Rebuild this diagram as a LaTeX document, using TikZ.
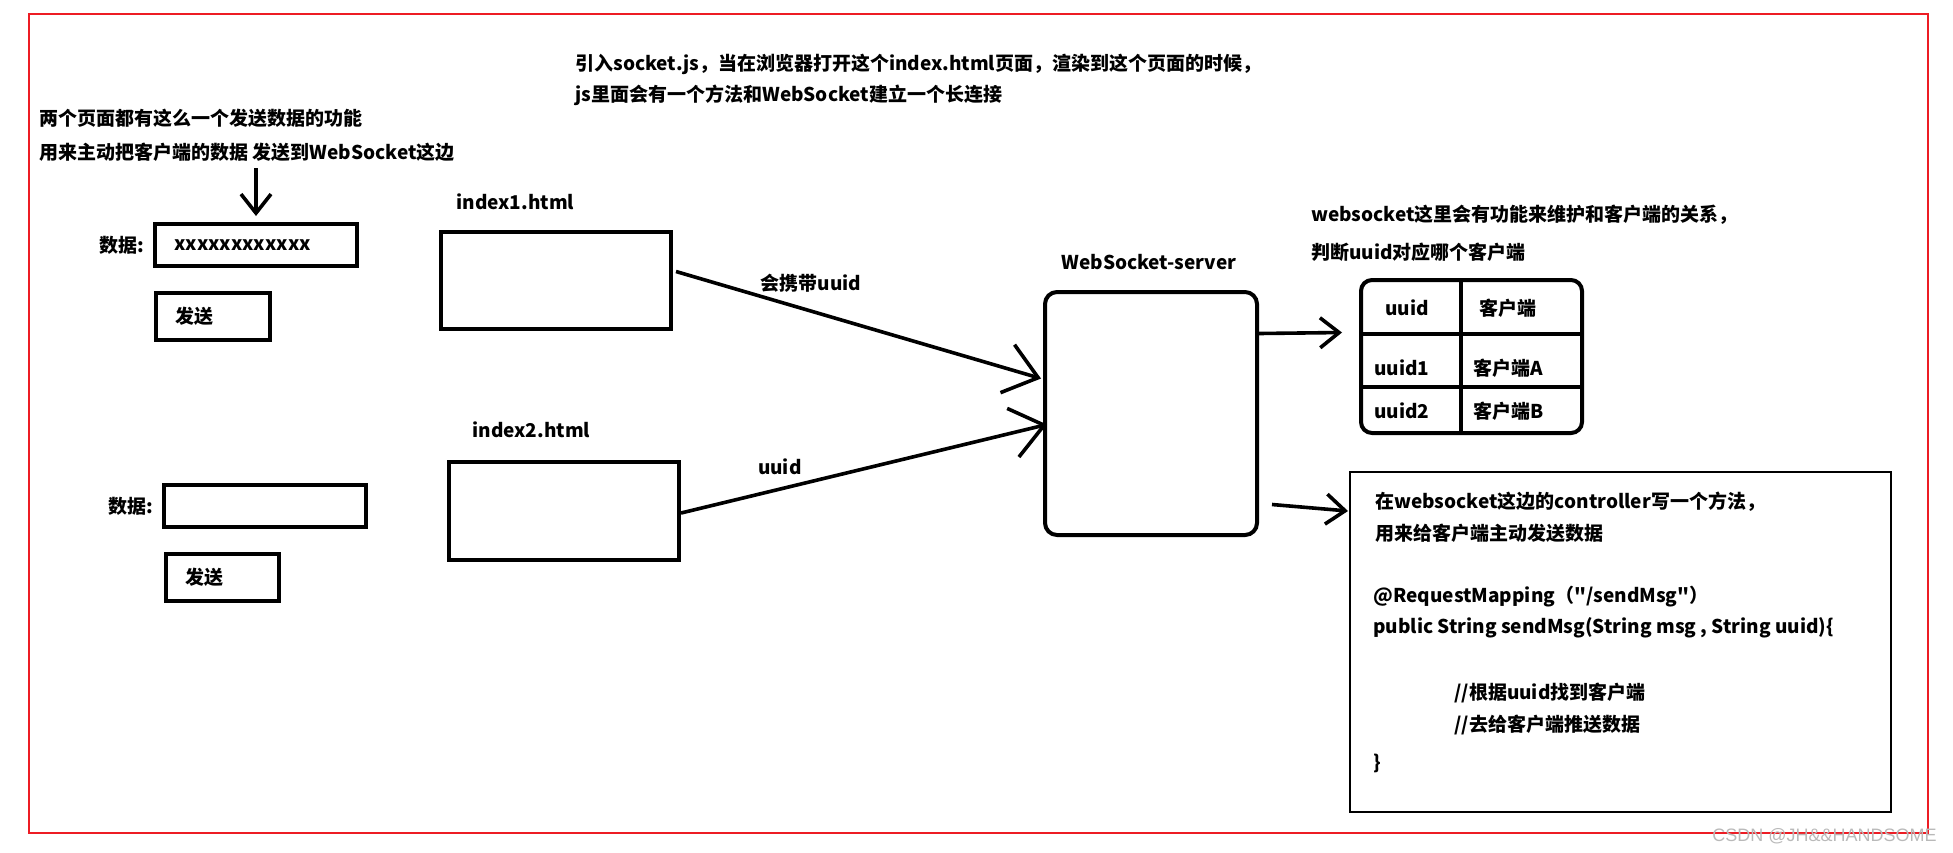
\documentclass[tikz,border=0pt]{standalone}
\usepackage{fontspec}
\setmainfont{Noto Sans CJK SC}[Ligatures=TeXOff]
\newfontfamily\markfont{Liberation Sans}
\usetikzlibrary{arrows.meta,calc}
\definecolor{framered}{RGB}{237,28,36}

\begin{document}
\begin{tikzpicture}[x=0.5pt, y=-0.5pt,
    every node/.style={font=\fontsize{9.5}{11}\selectfont\bfseries},
    txt/.style={anchor=west, inner sep=0pt},
    box/.style={draw, line width=2pt, inner sep=0pt, outer sep=0pt, anchor=north west},
    big arrow/.style={line width=1.8pt, -{Straight Barb[length=16pt, width=25pt]}},
    small arrow/.style={line width=1.8pt, -{Straight Barb[length=9.5pt, width=15pt]}}]
  \useasboundingbox (0,0) rectangle (1953,852);

  % Red frame round everything
  \draw[framered, line width=1.2pt] (29,14) rectangle (1928,833);

  % Notes at the top
  \node[txt] (jsnote1) at (575,64) {引入socket.js，当在浏览器打开这个index.html页面，渲染到这个页面的时候，};
  \node[txt] (jsnote2) at (575,95) {js里面会有一个方法和WebSocket建立一个长连接};
  \node[txt] (sendnote1) at (39,118) {两个页面都有这么一个发送数据的功能};
  \node[txt] (sendnote2) at (39,152) {用来主动把客户端的数据 发送到WebSocket这边};

  % Form of the first page
  \node[box, minimum width=101pt, minimum height=21pt] (in1) at (155,224) {};
  \node[txt, anchor=east] (data1) at ($(in1.west)+(-10,0)$) {数据:};
  \node[txt] (val1) at ($(in1.west)+(19,0)$) {xxxxxxxxxxxx};
  \node[box, minimum width=57pt, minimum height=23.5pt] (send1) at (156,293) {};
  \node[txt] (sendtxt1) at ($(send1.west)+(19,0)$) {发送};
  \coordinate (hint) at (256,168);
  \draw[small arrow] (hint) -- ([yshift=4pt]in1.north);

  % Form of the second page
  \node[box, minimum width=101pt, minimum height=21pt] (in2) at (164,485) {};
  \node[txt, anchor=east] (data2) at ($(in2.west)+(-10,0)$) {数据:};
  \node[box, minimum width=56.5pt, minimum height=23.5pt] (send2) at (166,554) {};
  \node[txt] (sendtxt2) at ($(send2.west)+(19,0)$) {发送};

  % The two pages
  \node[box, minimum width=115pt, minimum height=48.5pt] (idx1) at (441,232) {};
  \node[txt] (idx1lbl) at (456,202) {index1.html};
  \node[box, minimum width=115pt, minimum height=49pt] (idx2) at (449,462) {};
  \node[txt] (idx2lbl) at (472,430) {index2.html};

  % Server
  \node[box, rounded corners=6pt, minimum width=106pt, minimum height=121.5pt] (server) at (1045,292) {};
  \node[txt] (serverlbl) at (1061,262) {WebSocket-server};

  % Pages to server
  \draw[big arrow] ($(idx1.east)+(5,-9)$) -- ($(server.west)+(-4,-35)$)
    node[pos=0.37, above=5pt] (uuidlbl1) {会携带uuid};
  \draw[big arrow] ($(idx2.east)+(2,2)$) -- ($(server.west)+(2,11)$)
    node[pos=0.27, above=3pt] (uuidlbl2) {uuid};

  % Table of uuid and clients
  \node[txt] (mapnote1) at (1311,215) {websocket这里会有功能来维护和客户端的关系，};
  \node[txt] (mapnote2) at (1311,252) {判断uuid对应哪个客户端};
  \node[box, rounded corners=5.5pt, minimum width=110.5pt, minimum height=76.5pt] (tbl) at (1361,280) {};
  \coordinate (colx) at (1461,0);
  \draw[line width=2pt] (tbl.north -| colx) -- (tbl.south -| colx);
  \foreach \r in {334,387} {
    \coordinate (rowy) at (0,\r);
    \draw[line width=2pt] (tbl.west |- rowy) -- (tbl.east |- rowy);
  }
  \node[txt] (head1) at (1385,308) {uuid};
  \node[txt] (head2) at (1479,308) {客户端};
  \foreach \y/\n/\c in {368/1/A, 411/2/B} {
    \node[txt] at (1374,\y) {uuid\n};
    \node[txt] at (1473,\y) {客户端\c};
  }
  \draw[small arrow] ($(server.east)+(2,-80)$) -- ($(tbl.west)+(-19,-24)$);

  % Controller box
  \node[box, line width=1.3pt, minimum width=270.5pt, minimum height=170pt] (code) at (1350,472) {};
  \node[txt] (code1) at (1375,502) {在websocket这边的controller写一个方法，};
  \node[txt] (code2) at (1375,533) {用来给客户端主动发送数据};
  \node[txt] (code3) at (1373,597) {@RequestMapping（"/sendMsg"）};
  \node[txt] (code4) at (1373,628) {public String sendMsg(String msg , String uuid)\{};
  \node[txt] (code5) at (1454,693) {//根据uuid找到客户端};
  \node[txt] (code6) at (1454,725) {//去给客户端推送数据};
  \node[txt] (code7) at (1373,763) {\}};
  \draw[small arrow] ($(server.east)+(15,91)$) -- ($(code.west)+(-2,-131)$);

  % Watermark
  \node[anchor=east, inner sep=0pt, text=gray!55, font=\markfont\fontsize{9}{10}\selectfont] (mark) at (1937,836) {CSDN @JH\&\&HANDSOME};
\end{tikzpicture}
\end{document}
